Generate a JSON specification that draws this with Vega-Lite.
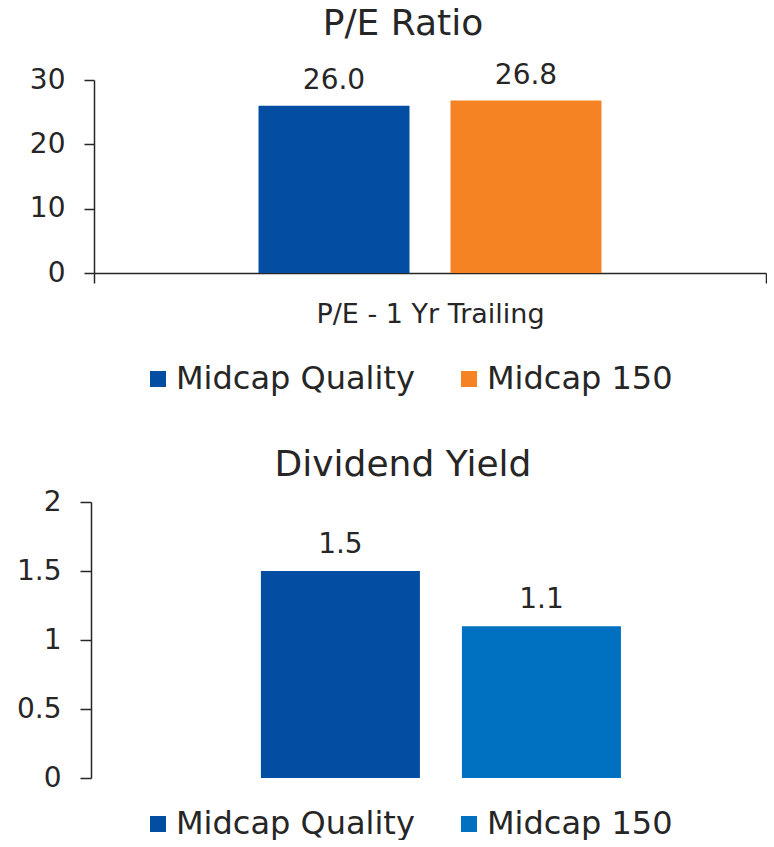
{
  "$schema": "https://vega.github.io/schema/vega-lite/v6.json",
  "padding": {"left": 16, "top": 5, "right": 0, "bottom": 0},
  "background": "white",
  "datasets": {
    "pe": [
      {"metric": "P/E - 1 Yr Trailing", "series": "Midcap Quality", "value": 26.0},
      {"metric": "P/E - 1 Yr Trailing", "series": "Midcap 150", "value": 26.8}
    ],
    "dy": [
      {"metric": "Dividend Yield", "series": "Midcap Quality", "value": 1.5},
      {"metric": "Dividend Yield", "series": "Midcap 150", "value": 1.1}
    ]
  },
  "config": {
    "font": "DejaVu Sans",
    "view": {"stroke": null},
    "axis": {
      "grid": false,
      "domainColor": "#262626",
      "domainWidth": 1.5,
      "tickColor": "#262626",
      "tickWidth": 1.5,
      "labelColor": "#262626",
      "labelFont": "DejaVu Sans",
      "labelFontSize": 28,
      "labelFontWeight": "normal",
      "labelLimit": 0
    },
    "legend": {
      "labelColor": "#262626",
      "labelFont": "DejaVu Sans",
      "labelFontSize": 32,
      "labelFontWeight": "normal",
      "labelLimit": 0
    },
    "title": {"color": "#262626", "font": "DejaVu Sans", "fontWeight": "normal", "fontSize": 36}
  },
  "vconcat": [
    {
      "width": 672,
      "height": 193,
      "data": {"name": "pe"},
      "title": {"text": "P/E Ratio", "dx": -27, "offset": 19},
      "encoding": {
        "x": {
          "field": "metric",
          "type": "nominal",
          "scale": {"paddingInner": 0, "paddingOuter": 0},
          "axis": {"title": null, "labelAngle": 0, "tickBand": "extent", "tickSize": 10, "labelPadding": 18, "labelFontSize": 27}
        },
        "xOffset": {
          "field": "series",
          "type": "nominal",
          "sort": ["Midcap Quality", "Midcap 150"],
          "scale": {"paddingInner": 0.2135, "paddingOuter": 0.857, "align": 0.5}
        },
        "y": {
          "field": "value",
          "type": "quantitative",
          "scale": {"domain": [0, 30]},
          "axis": {"title": null, "values": [0, 10, 20, 30], "tickSize": 10, "labelPadding": 19}
        }
      },
      "layer": [
        {
          "mark": {"type": "bar"},
          "encoding": {
            "color": {
              "field": "series",
              "type": "nominal",
              "scale": {"domain": ["Midcap Quality", "Midcap 150"], "range": ["#034EA2", "#F58223"]},
              "legend": {
                "title": null,
                "orient": "none",
                "direction": "horizontal",
                "legendX": 48,
                "legendY": 283,
                "symbolType": "square",
                "symbolSize": 256,
                "symbolStrokeWidth": 0,
                "labelOffset": 2,
                "columnPadding": 38
              }
            }
          }
        },
        {
          "mark": {"type": "text", "baseline": "alphabetic", "dy": -17, "fontSize": 28, "color": "#262626"},
          "encoding": {"text": {"field": "value", "type": "quantitative", "format": ".1f"}}
        }
      ]
    },
    {
      "width": 672,
      "height": 276,
      "data": {"name": "dy"},
      "title": {"text": "Dividend Yield", "dx": -27, "offset": 4},
      "encoding": {
        "x": {
          "field": "metric",
          "type": "nominal",
          "scale": {"paddingInner": 0, "paddingOuter": 0},
          "axis": null
        },
        "xOffset": {
          "field": "series",
          "type": "nominal",
          "sort": ["Midcap Quality", "Midcap 150"],
          "scale": {"paddingInner": 0.209, "paddingOuter": 0.776, "align": 0.535}
        },
        "y": {
          "field": "value",
          "type": "quantitative",
          "scale": {"domain": [0, 2]},
          "axis": {"title": null, "values": [0, 0.5, 1, 1.5, 2], "format": "~g", "tickSize": 11, "offset": 3, "labelPadding": 19}
        }
      },
      "layer": [
        {
          "mark": {"type": "bar"},
          "encoding": {
            "color": {
              "field": "series",
              "type": "nominal",
              "scale": {"domain": ["Midcap Quality", "Midcap 150"], "range": ["#034EA2", "#0070C0"]},
              "legend": {
                "title": null,
                "orient": "none",
                "direction": "horizontal",
                "legendX": 48,
                "legendY": 306,
                "symbolType": "square",
                "symbolSize": 256,
                "symbolStrokeWidth": 0,
                "labelOffset": 2,
                "columnPadding": 38
              }
            }
          }
        },
        {
          "mark": {"type": "text", "baseline": "alphabetic", "dy": -18, "fontSize": 28, "color": "#262626"},
          "encoding": {"text": {"field": "value", "type": "quantitative", "format": ".1f"}}
        }
      ]
    }
  ],
  "spacing": 229,
  "bounds": "flush",
  "resolve": {
    "scale": {"color": "independent", "x": "independent", "xOffset": "independent", "y": "independent"},
    "legend": {"color": "independent"}
  }
}
